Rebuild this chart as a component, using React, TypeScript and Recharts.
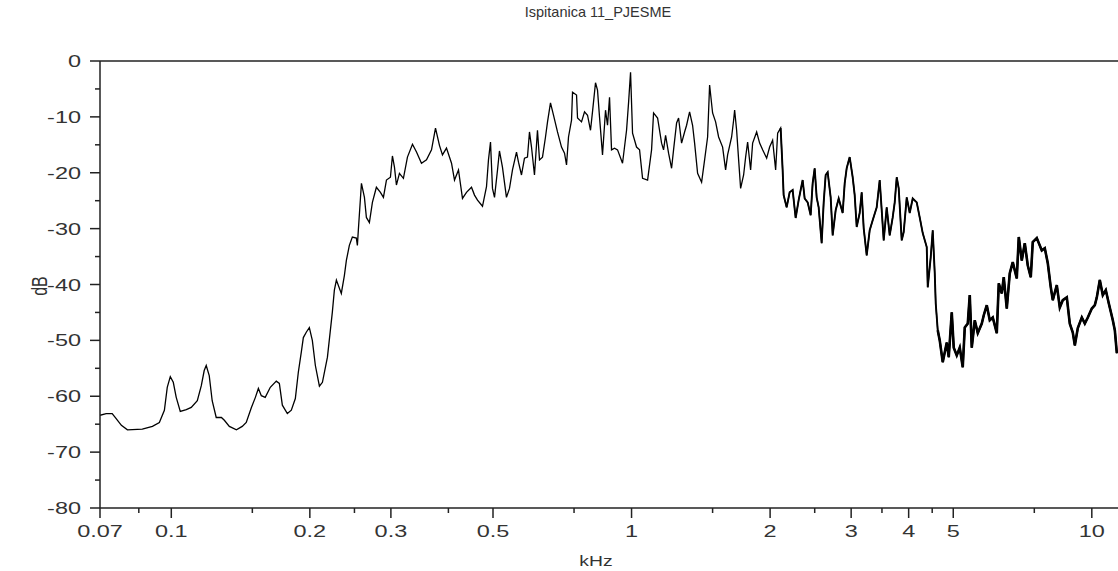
import { LineChart, Line, XAxis, YAxis, ReferenceLine } from 'recharts'

// spectrum: frequency in kHz, level in dB
const FREQ_KHZ = [
    0.07, 0.0722, 0.0744, 0.0759, 0.0779, 0.0803, 0.0865, 0.091, 0.0942, 0.0966,
    0.098, 0.0995, 0.101, 0.1025, 0.1046, 0.1078, 0.1105, 0.1139, 0.1162, 0.1179,
    0.1191, 0.1209, 0.1227, 0.1252, 0.1285, 0.1304, 0.1337, 0.1385, 0.1426, 0.1455,
    0.1493, 0.1523, 0.1546, 0.1569, 0.16, 0.1641, 0.1691, 0.1717, 0.1743, 0.1787,
    0.1823, 0.186, 0.1888, 0.1917, 0.1936, 0.1966, 0.1995, 0.2025, 0.2056, 0.2098,
    0.213, 0.2184, 0.2238, 0.2261, 0.2284, 0.2341, 0.2377, 0.2401, 0.2437, 0.2474,
    0.2524, 0.2537, 0.2549, 0.2576, 0.2589, 0.2628, 0.2654, 0.2694, 0.2735, 0.279,
    0.2847, 0.289, 0.2934, 0.2993, 0.3023, 0.3054, 0.3084, 0.3131, 0.3194, 0.3259,
    0.3342, 0.341, 0.3496, 0.3585, 0.3676, 0.375, 0.3825, 0.3883, 0.3962, 0.4063,
    0.4124, 0.4207, 0.4292, 0.4379, 0.449, 0.4558, 0.4627, 0.4744, 0.484, 0.4888,
    0.4938, 0.4987, 0.5038, 0.5114, 0.5164, 0.5242, 0.5348, 0.543, 0.5512, 0.5624,
    0.568, 0.5766, 0.5853, 0.5941, 0.6001, 0.6062, 0.6153, 0.6246, 0.631, 0.6405,
    0.6502, 0.6568, 0.6666, 0.6767, 0.6904, 0.7044, 0.7151, 0.7223, 0.7295, 0.7406,
    0.7443, 0.7594, 0.7632, 0.7786, 0.7904, 0.8023, 0.8144, 0.8225, 0.835, 0.8434,
    0.8519, 0.8648, 0.8779, 0.8867, 0.8957, 0.9047, 0.9184, 0.9323, 0.9559, 0.9753,
    0.9851, 0.995, 1.005, 1.0253, 1.0409, 1.0566, 1.0835, 1.1053, 1.1164, 1.1391,
    1.1621, 1.1737, 1.1856, 1.2035, 1.2217, 1.2339, 1.2527, 1.2653, 1.2844, 1.3039,
    1.317, 1.3369, 1.3571, 1.3709, 1.3916, 1.4197, 1.4412, 1.463, 1.4777, 1.5,
    1.5228, 1.5458, 1.577, 1.6009, 1.617, 1.6498, 1.6663, 1.6748, 1.6916, 1.7086,
    1.7257, 1.7518, 1.7695, 1.7873, 1.8143, 1.8326, 1.8698, 1.898, 1.9267, 1.9658,
    1.9953, 2.0254, 2.0562, 2.0769, 2.1082, 2.1294, 2.1401, 2.1726, 2.2054, 2.2387,
    2.2727, 2.3071, 2.3536, 2.3775, 2.4134, 2.4498, 2.4744, 2.4995, 2.5246, 2.55,
    2.5886, 2.6145, 2.6409, 2.6675, 2.7078, 2.735, 2.7765, 2.8185, 2.8754, 2.9046,
    2.9337, 2.978, 3.023, 3.0536, 3.0843, 3.1309, 3.1625, 3.1941, 3.2427, 3.2916,
    3.3413, 3.4091, 3.4606, 3.4955, 3.5305, 3.5841, 3.6382, 3.6931, 3.7306, 3.7681,
    3.8059, 3.8636, 3.9023, 3.9616, 4.0213, 4.082, 4.1649, 4.2278, 4.2916, 4.3787,
    4.4007, 4.467, 4.5119, 4.5577, 4.5804, 4.6266, 4.673, 4.7436, 4.8398, 4.8884,
    4.9625, 5.0121, 5.0883, 5.1651, 5.2431, 5.2963, 5.3764, 5.4302, 5.485, 5.5681,
    5.6523, 5.7667, 5.8243, 5.9128, 6.002, 6.0926, 6.2163, 6.2787, 6.3733, 6.4371,
    6.5349, 6.6335, 6.7337, 6.8703, 6.9393, 7.0444, 7.1511, 7.2592, 7.3687, 7.4427,
    7.5938, 7.7862, 7.9041, 8.0236, 8.1445, 8.2264, 8.3933, 8.52, 8.6487, 8.8242,
    8.9573, 9.0926, 9.1848, 9.3237, 9.5121, 9.6562, 9.8022, 10.0, 10.152, 10.254,
    10.408, 10.565, 10.725, 10.888, 11.108, 11.221, 11.334,
]

const LEVEL_DB = [
    -63.4, -63.1, -63.1, -64.0, -65.2, -66.0, -65.9, -65.4, -64.7, -62.5,
    -58.4, -56.5, -57.5, -60.2, -62.7, -62.4, -62.0, -60.8, -58.1, -55.4,
    -54.5, -56.3, -60.8, -63.8, -63.8, -64.3, -65.4, -66.0, -65.4, -64.7,
    -62.0, -60.2, -58.6, -59.9, -60.2, -58.4, -57.3, -57.7, -61.6, -63.1,
    -62.5, -60.4, -55.7, -52.0, -49.5, -48.5, -47.7, -50.0, -54.5, -58.2,
    -57.5, -53.0, -45.0, -41.0, -39.2, -41.6, -38.4, -35.7, -33.0, -31.5,
    -31.7, -33.0, -30.3, -24.6, -21.9, -24.4, -28.0, -28.9, -25.3, -22.6,
    -23.5, -24.4, -21.3, -20.8, -17.0, -19.0, -22.2, -20.1, -21.0, -17.2,
    -14.9, -16.3, -18.3, -17.7, -15.9, -12.0, -15.1, -16.8, -15.6, -18.3,
    -21.3, -19.5, -24.6, -23.5, -22.6, -24.0, -24.9, -26.0, -22.5, -17.7,
    -14.5, -22.8, -24.4, -19.5, -16.1, -19.0, -24.4, -22.8, -19.5, -16.3,
    -18.1, -20.4, -17.4, -17.2, -12.7, -15.4, -20.4, -12.4, -17.7, -17.2,
    -13.6, -10.9, -7.5, -9.7, -12.7, -15.4, -16.5, -18.6, -13.6, -10.6,
    -5.6, -6.1, -10.2, -10.9, -9.1, -9.7, -12.4, -9.1, -3.9, -5.2,
    -10.0, -16.8, -8.8, -11.5, -6.5, -15.9, -15.6, -15.9, -18.3, -12.4,
    -7.5, -2.0, -12.9, -15.4, -15.9, -21.0, -21.3, -15.9, -9.3, -10.2,
    -14.7, -15.9, -13.3, -16.5, -19.2, -15.9, -11.1, -10.2, -14.7, -12.7,
    -11.5, -9.1, -11.5, -14.7, -20.1, -21.7, -17.7, -13.6, -4.3, -9.3,
    -10.9, -13.6, -15.4, -19.5, -16.8, -13.6, -10.6, -8.8, -12.4, -17.7,
    -22.8, -20.4, -17.2, -14.5, -19.5, -14.7, -12.7, -14.7, -15.9, -17.4,
    -15.4, -14.2, -19.5, -12.9, -12.0, -19.5, -24.0, -26.2, -23.5, -23.1,
    -28.1, -24.9, -21.3, -24.6, -25.3, -27.6, -21.9, -19.2, -24.4, -26.2,
    -32.6, -25.4, -20.4, -19.9, -24.4, -31.2, -26.7, -24.6, -27.2, -21.9,
    -19.2, -17.2, -20.8, -24.0, -29.7, -27.2, -23.5, -29.9, -34.8, -30.3,
    -28.5, -26.2, -21.3, -26.7, -32.1, -26.2, -31.2, -28.0, -25.3, -20.8,
    -22.8, -32.1, -30.6, -24.4, -27.2, -24.6, -25.3, -28.0, -30.8, -33.3,
    -40.5, -35.1, -30.3, -38.0, -43.4, -48.2, -50.0, -53.9, -50.4, -53.0,
    -45.0, -51.3, -52.7, -51.3, -54.8, -47.7, -47.0, -41.9, -51.3, -46.4,
    -48.7, -47.0, -45.5, -43.7, -46.4, -45.9, -48.7, -39.8, -41.6, -38.7,
    -44.3, -38.0, -36.0, -38.9, -31.5, -35.7, -32.6, -36.6, -38.7, -32.4,
    -31.7, -33.9, -33.5, -36.2, -40.5, -42.8, -40.1, -44.1, -42.8, -42.3,
    -47.0, -48.6, -50.9, -47.8, -45.9, -47.0, -45.9, -44.3, -43.7, -42.3,
    -39.2, -41.9, -41.0, -43.4, -46.4, -48.2, -52.3,
]

const X_MAJOR = [0.07, 0.1, 0.2, 0.3, 0.5, 1, 2, 3, 4, 5, 10]
const X_MAJOR_LABELS = ['0.07', '0.1', '0.2', '0.3', '0.5', '1', '2', '3', '4', '5', '10']
const X_MINOR = [0.085, 0.15, 0.25, 0.4, 0.75, 1.5, 2.5, 3.5, 4.5, 7.5]
const Y_MAJOR = [0, -10, -20, -30, -40, -50, -60, -70, -80]
const Y_MINOR = [-5, -15, -25, -35, -45, -55, -65, -75]

const data = FREQ_KHZ.map((f, i) => ({ f, db: LEVEL_DB[i] }))
// the upper band is much denser in the original, so it reads as a heavier trace
const denseMid = data.filter((d) => d.f >= 2.1)
const denseHigh = data.filter((d) => d.f >= 4.6)

const W = 1118
const H = 571
const PLOT_LEFT = 100
const PLOT_TOP = 61
const PLOT_BOTTOM = 508
const FONT = '"Liberation Sans", Arial, sans-serif'
const AXIS = '#222'
const TEXT = '#333'
const STRETCH = 1.38 // the original's text is drawn wide

function XTick(props: any) {
    const { x, payload } = props
    const i = X_MAJOR.indexOf(payload.value)
    const major = i >= 0
    return (
        <g>
            <line x1={x} x2={x} y1={PLOT_BOTTOM} y2={PLOT_BOTTOM + (major ? 10 : 5)} stroke={AXIS} strokeWidth={1.5} />
            {major && (
                <text
                    transform={`translate(${x},${PLOT_BOTTOM + 29}) scale(${STRETCH},1)`}
                    textAnchor="middle"
                    fontSize={17}
                    fontFamily={FONT}
                    fill={TEXT}
                >
                    {X_MAJOR_LABELS[i]}
                </text>
            )}
        </g>
    )
}

function YTick(props: any) {
    const { y, payload } = props
    const major = Y_MAJOR.includes(payload.value)
    return (
        <g>
            <line x1={PLOT_LEFT - (major ? 10 : 5)} x2={PLOT_LEFT} y1={y} y2={y} stroke={AXIS} strokeWidth={1.5} />
            {major && (
                <text
                    transform={`translate(${PLOT_LEFT - 19},${y + 6}) scale(${STRETCH},1)`}
                    textAnchor="end"
                    fontSize={17}
                    fontFamily={FONT}
                    fill={TEXT}
                >
                    {payload.value}
                </text>
            )}
        </g>
    )
}

export default function App() {
    return (
        <div style={{ position: 'fixed', left: 0, top: 0, width: W, height: H, overflow: 'hidden', background: '#fff' }}>
            <div
                style={{
                    position: 'absolute', left: 0, width: 1196, top: 4, textAlign: 'center',
                    fontFamily: FONT, fontSize: 14.5, color: TEXT,
                }}
            >
                Ispitanica 11_PJESME
            </div>
            <div
                style={{
                    position: 'absolute', left: 40, top: 286,
                    transform: `translate(-50%, -50%) scaleX(${STRETCH}) rotate(-90deg)`,
                    fontFamily: FONT, fontSize: 16, color: TEXT,
                }}
            >
                dB
            </div>
            <div
                style={{
                    position: 'absolute', left: 596, top: 561, transform: `translate(-50%, -50%) scaleX(${STRETCH})`,
                    fontFamily: FONT, fontSize: 14, color: TEXT,
                }}
            >
                kHz
            </div>
            <div style={{ position: 'absolute', left: 0, top: 0 }}>
                <LineChart
                    width={W}
                    height={H}
                    data={data}
                    margin={{ top: PLOT_TOP, right: 0, left: 40, bottom: 33 }}
                >
                    <XAxis
                        dataKey="f"
                        type="number"
                        scale="log"
                        domain={[0.07, 11.4]}
                        allowDataOverflow
                        ticks={[...X_MAJOR, ...X_MINOR].sort((a, b) => a - b)}
                        interval={0}
                        tick={<XTick />}
                        tickLine={false}
                        axisLine={{ stroke: AXIS, strokeWidth: 1.5 }}
                        height={30}
                    />
                    <YAxis
                        type="number"
                        domain={[-80, 0]}
                        ticks={[...Y_MAJOR, ...Y_MINOR].sort((a, b) => a - b)}
                        interval={0}
                        tick={<YTick />}
                        tickLine={false}
                        axisLine={{ stroke: AXIS, strokeWidth: 1.5 }}
                        width={60}
                    />
                    <ReferenceLine y={0} stroke={AXIS} strokeWidth={1.5} />
                    <Line
                        type="linear"
                        dataKey="db"
                        stroke="#000"
                        strokeWidth={1.3}
                        dot={false}
                        isAnimationActive={false}
                    />
                    <Line
                        type="linear"
                        data={denseMid}
                        dataKey="db"
                        stroke="#000"
                        strokeWidth={1.9}
                        dot={false}
                        isAnimationActive={false}
                    />
                    <Line
                        type="linear"
                        data={denseHigh}
                        dataKey="db"
                        stroke="#000"
                        strokeWidth={2.6}
                        dot={false}
                        isAnimationActive={false}
                    />
                </LineChart>
            </div>
        </div>
    )
}
